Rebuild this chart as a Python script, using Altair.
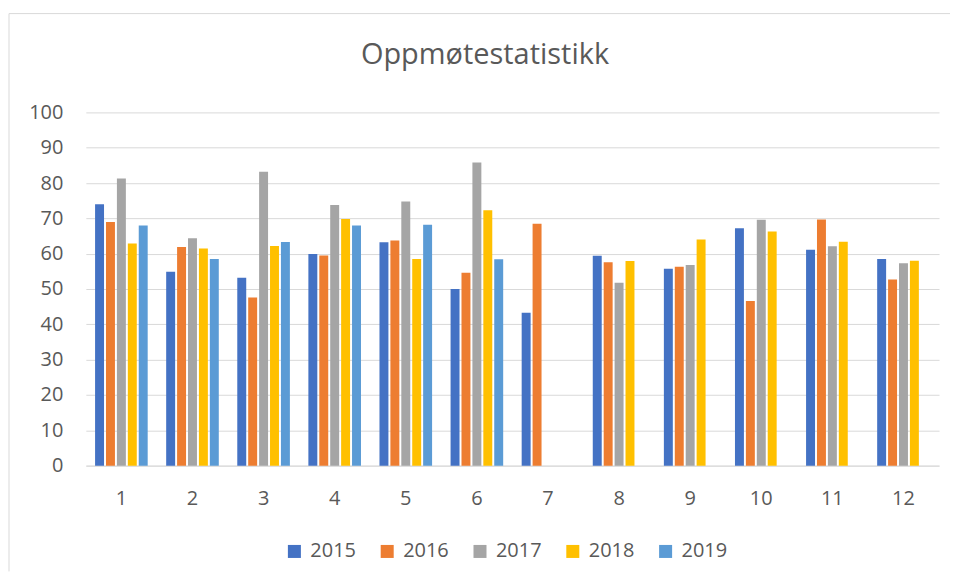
import altair as alt
import pandas as pd

months = [str(i) for i in range(1, 13)]
years = ["2015", "2016", "2017", "2018", "2019"]
colors = ["#4472C4", "#ED7D31", "#A5A5A5", "#FFC000", "#5B9BD5"]
title_text = ["Oppmøtestatistikk"]

v2015 = [74.0, 54.9, 53.2, 59.9, 63.2, 50.0, 43.3, 59.4, 55.7, 67.2, 61.1, 58.5]
v2016 = [69.0, 61.9, 47.6, 59.5, 63.7, 54.6, 68.5, 57.6, 56.3, 46.6, 69.7, 52.7]
v2017 = [81.3, 64.4, 83.2, 73.8, 74.8, 85.8, None, 51.8, 56.8, 69.6, 62.1, 57.3]
v2018 = [62.9, 61.5, 62.2, 69.8, 58.5, 72.3, None, 57.9, 64.0, 66.3, 63.4, 58.0]
v2019 = [68.0, 58.5, 63.3, 68.0, 68.2, 58.4, None, None, None, None, None, None]

series = {"2015": v2015, "2016": v2016, "2017": v2017, "2018": v2018, "2019": v2019}
rows = []
for y, vals in series.items():
    for m, v in zip(months, vals):
        if v is not None:
            rows.append({"Måned": m, "År": y, "Verdi": v})
df = pd.DataFrame(rows)

FONT = "Open Sans"
GREY = "#595959"
GRID = "#D9D9D9"

bars = alt.Chart(df).mark_bar().encode(
    x=alt.X("Måned:N", sort=months, title=None,
            scale=alt.Scale(domain=months, paddingInner=0.26, paddingOuter=0.13),
            axis=alt.Axis(labelAngle=0, ticks=False, domainColor=GRID, domainWidth=1,
                          labelPadding=23, labelFontSize=20, labelFont=FONT,
                          labelColor=GREY, grid=False)),
    xOffset=alt.XOffset("År:N", scale=alt.Scale(domain=years, paddingInner=0.18, paddingOuter=0)),
    y=alt.Y("Verdi:Q", title=None,
            scale=alt.Scale(domain=[0, 100], nice=False),
            axis=alt.Axis(values=list(range(0, 101, 10)), domain=False, ticks=False,
                          labelPadding=23, labelFontSize=20, labelFont=FONT,
                          labelColor=GREY, gridColor=GRID, gridWidth=1)),
    color=alt.Color("År:N", scale=alt.Scale(domain=years, range=colors), title=None,
                    legend=alt.Legend(orient="none", direction="horizontal", columns=5,
                                      legendX=199, legendY=430, symbolType="square",
                                      symbolSize=170, symbolStrokeWidth=0,
                                      labelFontSize=20, labelFont=FONT, labelColor=GREY,
                                      labelOffset=6, columnPadding=21, padding=0)),
)

one = pd.DataFrame({"a": [0]})
frame_left = alt.Chart(one).mark_rule(color=GRID, strokeWidth=1).encode(
    x=alt.value(-77), y=alt.value(-99), y2=alt.value(460))
frame_top = alt.Chart(one).mark_rule(color=GRID, strokeWidth=1).encode(
    x=alt.value(-77), x2=alt.value(866), y=alt.value(-99))

title = alt.Chart(pd.DataFrame({"t": title_text})).mark_text(
    font=FONT, fontSize=29, color=GREY, align="center", baseline="alphabetic"
).encode(text="t:N", x=alt.value(400), y=alt.value(-48))

chart = alt.layer(frame_left, frame_top, title, bars).properties(
    width=855, height=354,
    padding={"left": 0, "top": 4, "right": 0, "bottom": 0},
).configure_view(stroke=None)

chart.save("out.html", embed_options={"renderer": "svg", "actions": False})
